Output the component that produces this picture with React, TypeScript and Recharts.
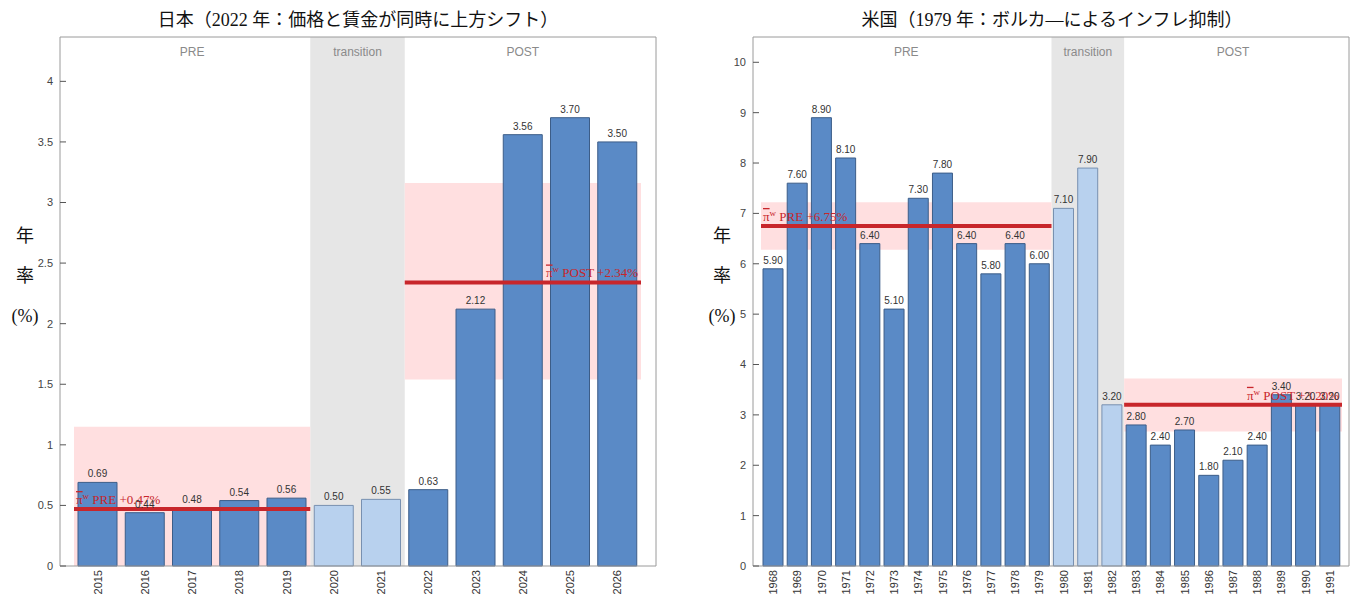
import React from 'react';
import { BarChart, Bar, XAxis, YAxis, Cell, LabelList, ReferenceArea } from 'recharts';

// 日本
const JP_YEARS = ['2015', '2016', '2017', '2018', '2019', '2020', '2021', '2022', '2023', '2024', '2025', '2026'];
const JP_VALUES = [0.69, 0.44, 0.48, 0.54, 0.56, 0.5, 0.55, 0.63, 2.12, 3.56, 3.7, 3.5];
const JP_PRE_YEARS = ['2015', '2019'];
const JP_TRANS_YEARS = ['2020', '2021'];
const JP_POST_YEARS = ['2022', '2026'];
const JP_PRE_STATS = { mean: 0.47, lo: 0, hi: 1.15 };
const JP_POST_STATS = { mean: 2.34, lo: 1.54, hi: 3.16 };
const JP_Y_TICKS = [0, 0.5, 1, 1.5, 2, 2.5, 3, 3.5, 4];

// 米国
const US_YEARS = [
  '1968', '1969', '1970', '1971', '1972', '1973', '1974', '1975', '1976', '1977', '1978', '1979',
  '1980', '1981', '1982',
  '1983', '1984', '1985', '1986', '1987', '1988', '1989', '1990', '1991',
];
const US_VALUES = [
  5.9, 7.6, 8.9, 8.1, 6.4, 5.1, 7.3, 7.8, 6.4, 5.8, 6.4, 6.0,
  7.1, 7.9, 3.2,
  2.8, 2.4, 2.7, 1.8, 2.1, 2.4, 3.4, 3.2, 3.2,
];
const US_PRE_YEARS = ['1968', '1979'];
const US_TRANS_YEARS = ['1980', '1982'];
const US_POST_YEARS = ['1983', '1991'];
const US_PRE_STATS = { mean: 6.75, lo: 6.28, hi: 7.22 };
const US_POST_STATS = { mean: 3.2, lo: 2.67, hi: 3.72 };
const US_Y_TICKS = [0, 1, 2, 3, 4, 5, 6, 7, 8, 9, 10];

const SERIF = "'Liberation Serif', 'DejaVu Serif', 'Noto Sans CJK JP', serif";
const SANS = "'Liberation Sans', Arial, 'DejaVu Sans', sans-serif";
const RED = '#c8262b';

const YearTick = (props: any) => {
  const { x, y, payload } = props;
  return (
    <text
      x={x}
      y={y}
      transform={`rotate(-90 ${x} ${y})`}
      textAnchor="end"
      dominantBaseline="central"
      fontSize={11}
      fill="#333"
      fontFamily={SANS}
    >
      {payload.value}
    </text>
  );
};

const MeanLine = (props: any) => (
  <line
    x1={props.x}
    x2={props.x + props.width}
    y1={props.y}
    y2={props.y}
    stroke={RED}
    strokeWidth={4}
  />
);

const meanLabel = (tag: string, value: number, align: 'start' | 'end') => (props: any) => {
  const vb = props.viewBox;
  if (!vb) return null;
  const x = align === 'start' ? vb.x + 2 : vb.x + vb.width - 3;
  return (
    <text x={x} y={vb.y - 5} textAnchor={align} fontSize={13} fill={RED} fontFamily={SERIF}>
      <tspan textDecoration="overline">π</tspan>
      <tspan dy={-5} fontSize={9}>w</tspan>
      <tspan dy={5}>{` ${tag} +${value.toFixed(2)}%`}</tspan>
    </text>
  );
};

interface PanelProps {
  years: string[];
  values: number[];
  pre: string[];
  trans: string[];
  post: string[];
  preStats: { mean: number; lo: number; hi: number };
  postStats: { mean: number; lo: number; hi: number };
  yTicks: number[];
  yMax: number;
  axisWidth: number;
  marginRight: number;
  padding: { left: number; right: number };
  barSize: number;
}

function Panel(p: PanelProps) {
  const data = p.years.map((year, i) => ({ year, value: p.values[i] }));
  const transSet = new Set(
    p.years.slice(p.years.indexOf(p.trans[0]), p.years.indexOf(p.trans[1]) + 1),
  );
  const regionLabel = (text: string) => ({
    value: text,
    position: 'insideTop' as const,
    offset: 10,
    fill: '#8a8a8a',
    fontSize: 12,
    fontFamily: SANS,
  });

  return (
    <BarChart
      width={680}
      height={600}
      data={data}
      margin={{ top: 36, right: p.marginRight - 1, bottom: 0, left: 0 }}
    >
      <XAxis
        dataKey="year"
        interval={0}
        height={34}
        padding={p.padding}
        tick={<YearTick />}
        tickLine={false}
        tickSize={2}
        tickMargin={2}
        axisLine={{ stroke: '#9a9a9a' }}
      />
      <XAxis
        xAxisId="top"
        dataKey="year"
        orientation="top"
        interval={0}
        height={1}
        padding={p.padding}
        tick={false}
        tickSize={-6}
        tickLine={{ stroke: '#555' }}
        axisLine={{ stroke: '#9a9a9a' }}
      />
      <YAxis
        domain={[0, p.yMax]}
        ticks={p.yTicks}
        width={p.axisWidth}
        tickSize={-6}
        tickMargin={13}
        tick={{ fill: '#444', fontSize: 11, fontFamily: SANS }}
        tickLine={{ stroke: '#555' }}
        axisLine={{ stroke: '#9a9a9a' }}
      />
      <YAxis
        yAxisId="right"
        orientation="right"
        domain={[0, p.yMax]}
        allowDataOverflow
        ticks={p.yTicks}
        width={1}
        tick={false}
        tickSize={-6}
        tickLine={{ stroke: '#555' }}
        axisLine={{ stroke: '#9a9a9a' }}
      />

      <ReferenceArea x1={p.trans[0]} x2={p.trans[1]} fill="#e6e6e6" fillOpacity={1} stroke="none" label={regionLabel('transition')} />
      <ReferenceArea x1={p.pre[0]} x2={p.pre[1]} fill="none" fillOpacity={0} stroke="none" label={regionLabel('PRE')} />
      <ReferenceArea x1={p.post[0]} x2={p.post[1]} fill="none" fillOpacity={0} stroke="none" label={regionLabel('POST')} />
      <ReferenceArea x1={p.pre[0]} x2={p.pre[1]} y1={p.preStats.lo} y2={p.preStats.hi} fill="#ffdfe0" fillOpacity={1} stroke="none" />
      <ReferenceArea x1={p.post[0]} x2={p.post[1]} y1={p.postStats.lo} y2={p.postStats.hi} fill="#ffdfe0" fillOpacity={1} stroke="none" />

      <Bar dataKey="value" barSize={p.barSize} isAnimationActive={false}>
        {data.map((d) => (
          <Cell
            key={d.year}
            fill={transSet.has(d.year) ? '#b8d1ee' : '#5a8ac6'}
            stroke={transSet.has(d.year) ? '#7890b0' : '#3c5d88'}
            strokeWidth={1}
          />
        ))}
        <LabelList
          dataKey="value"
          position="top"
          offset={5}
          formatter={(v: any) => Number(v).toFixed(2)}
          style={{ fill: '#333', fontSize: 10, fontFamily: SANS }}
        />
      </Bar>

      <ReferenceArea
        x1={p.pre[0]}
        x2={p.pre[1]}
        y1={p.preStats.mean}
        y2={p.preStats.mean}
        shape={MeanLine}
        zIndex={1500}
        label={meanLabel('PRE', p.preStats.mean, 'start')}
      />
      <ReferenceArea
        x1={p.post[0]}
        x2={p.post[1]}
        y1={p.postStats.mean}
        y2={p.postStats.mean}
        shape={MeanLine}
        zIndex={1500}
        label={meanLabel('POST', p.postStats.mean, 'end')}
      />
    </BarChart>
  );
}

const YLabel = ({ left }: { left: number }) => (
  <div style={{ position: 'absolute', left, top: 216, width: 40, textAlign: 'center', fontFamily: SERIF, fontSize: 18, color: '#111', lineHeight: '40px' }}>
    <div>年</div>
    <div>率</div>
    <div>(%)</div>
  </div>
);

const Title = ({ text, center }: { text: string; center: number }) => (
  <div style={{ position: 'absolute', left: center - 300, top: 5, width: 600, textAlign: 'center', fontFamily: SERIF, fontSize: 18, color: '#111', whiteSpace: 'nowrap' }}>
    {text}
  </div>
);

export default function App() {
  return (
    <div style={{ position: 'absolute', left: 0, top: 0, width: 1360, height: 600, background: '#fff', overflow: 'hidden' }}>
      <Title text="日本（2022 年：価格と賃金が同時に上方シフト）" center={358} />
      <Title text="米国（1979 年：ボルカ―によるインフレ抑制）" center={1052} />
      <YLabel left={5} />
      <YLabel left={702} />
      <div style={{ position: 'absolute', left: 0, top: 0 }}>
        <Panel
          years={JP_YEARS}
          values={JP_VALUES}
          pre={JP_PRE_YEARS}
          trans={JP_TRANS_YEARS}
          post={JP_POST_YEARS}
          preStats={JP_PRE_STATS}
          postStats={JP_POST_STATS}
          yTicks={JP_Y_TICKS}
          yMax={Math.max(...JP_VALUES) * 1.18}
          axisWidth={60}
          marginRight={24}
          padding={{ left: 14, right: 15 }}
          barSize={39}
        />
      </div>
      <div style={{ position: 'absolute', left: 680, top: 0 }}>
        <Panel
          years={US_YEARS}
          values={US_VALUES}
          pre={US_PRE_YEARS}
          trans={US_TRANS_YEARS}
          post={US_POST_YEARS}
          preStats={US_PRE_STATS}
          postStats={US_POST_STATS}
          yTicks={US_Y_TICKS}
          yMax={Math.max(...US_VALUES) * 1.18}
          axisWidth={73}
          marginRight={11}
          padding={{ left: 8, right: 7 }}
          barSize={20}
        />
      </div>
    </div>
  );
}
